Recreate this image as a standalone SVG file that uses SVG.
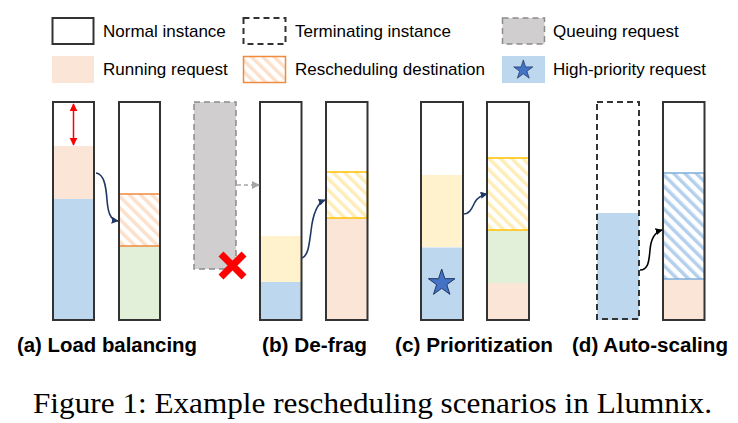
<svg xmlns="http://www.w3.org/2000/svg" width="738" height="423" viewBox="0 0 738 423">
<defs>
<pattern id="hOr" patternUnits="userSpaceOnUse" width="8" height="8" patternTransform="rotate(-45)"><rect width="8" height="8" fill="#fff"/><rect width="3.5" height="8" fill="#FBE0CC"/></pattern>
<pattern id="hYe" patternUnits="userSpaceOnUse" width="8" height="8" patternTransform="rotate(-45)"><rect width="8" height="8" fill="#fff"/><rect width="3.5" height="8" fill="#FFEDB8"/></pattern>
<pattern id="hBl" patternUnits="userSpaceOnUse" width="8" height="8" patternTransform="rotate(-45)"><rect width="8" height="8" fill="#fff"/><rect width="3.5" height="8" fill="#B4D0EC"/></pattern>
<marker id="mNavy" viewBox="0 0 10 10" refX="9" refY="5" markerWidth="7" markerHeight="7" orient="auto" markerUnits="userSpaceOnUse"><path d="M0,0 L10,5 L0,10 Z" fill="#1F3864"/></marker>
<marker id="mBlack" viewBox="0 0 10 10" refX="9" refY="5" markerWidth="7" markerHeight="7" orient="auto" markerUnits="userSpaceOnUse"><path d="M0,0 L10,5 L0,10 Z" fill="#000"/></marker>
<marker id="mGray" viewBox="0 0 10 10" refX="9" refY="5" markerWidth="8" markerHeight="8" orient="auto" markerUnits="userSpaceOnUse"><path d="M0,0 L10,5 L0,10 Z" fill="#A6A6A6"/></marker>
<marker id="mRed" viewBox="0 0 10 10" refX="9" refY="5" markerWidth="8" markerHeight="8" orient="auto-start-reverse" markerUnits="userSpaceOnUse"><path d="M0,0 L10,5 L0,10 Z" fill="#FF0000"/></marker>
<path id="star" d="M0,-14 L3.15,-4.33 L13.31,-4.33 L5.09,1.65 L8.23,11.33 L0,5.35 L-8.23,11.33 L-5.09,1.65 L-13.31,-4.33 L-3.15,-4.33 Z"/>
</defs>
<style>
.lg{font-family:"Liberation Sans",Arial,sans-serif;font-size:17px;fill:#000}
.lb{font-family:"Liberation Sans",Arial,sans-serif;font-size:20px;font-weight:bold;fill:#000}
.cap{font-family:"Liberation Serif","Times New Roman",serif;font-size:30px;fill:#000}
.inst{fill:none;stroke:#333;stroke-width:2}
.term{fill:none;stroke:#333;stroke-width:2;stroke-dasharray:6 4}
.queue{fill:#D0CECE;stroke:#8C8C8C;stroke-width:1.5;stroke-dasharray:6 4}
.pink{fill:#FBE5D6}
.blue{fill:#BDD7EE}
.green{fill:#E2F0D9}
.yellow{fill:#FFF2CC}
.hor{fill:url(#hOr);stroke:#F08A3C;stroke-width:1.5}
.hye{fill:url(#hYe);stroke:#FFC000;stroke-width:1.5}
.hbl{fill:url(#hBl);stroke:#7FAEDC;stroke-width:1.5}
.star{fill:#4472C4;stroke:#203864;stroke-width:1}
.arr{fill:none;stroke:#1F3864;stroke-width:1.6}
</style>
<rect width="738" height="423" fill="#fff"/>

<g id="legend">
<rect x="52.5" y="18" width="41" height="26" class="inst"/>
<text x="103" y="37" class="lg">Normal instance</text>
<rect x="243.5" y="18" width="42" height="26" class="term"/>
<text x="295" y="37" class="lg">Terminating instance</text>
<rect x="502.5" y="18" width="42" height="26" class="queue"/>
<text x="553" y="37" class="lg">Queuing request</text>
<rect x="52" y="56" width="42" height="27" class="pink"/>
<text x="103" y="75" class="lg">Running request</text>
<rect x="243.5" y="56.5" width="42" height="26" class="hor"/>
<text x="295" y="75" class="lg">Rescheduling destination</text>
<rect x="502" y="56" width="43" height="27" class="blue"/>
<use href="#star" class="star" transform="translate(523.3,70) scale(0.72)"/>
<text x="553" y="75" class="lg">High-priority request</text>
</g>

<g id="a-inst1">
<rect x="53" y="146" width="41" height="53" class="pink"/>
<rect x="53" y="199" width="41" height="121" class="blue"/>
<rect x="53" y="102" width="41" height="218" class="inst"/>
</g>
<g id="a-inst2">
<rect x="119" y="246" width="41" height="74" class="green"/>
<rect x="119" y="194" width="41" height="52" class="hor"/>
<rect x="119" y="102" width="41" height="218" class="inst"/>
</g>
<g id="a-queue">
<rect x="194" y="102" width="42" height="167" class="queue"/>
</g>
<g id="a-x">
<path d="M221,254 L244,277 M244,254 L221,277" stroke="#FF0000" stroke-width="7" stroke-linecap="butt"/>
</g>
<g id="b-inst1">
<rect x="260" y="236" width="41.5" height="46" class="yellow"/>
<rect x="260" y="282" width="41.5" height="38" class="blue"/>
<rect x="260" y="102" width="41.5" height="218" class="inst"/>
</g>
<g id="b-inst2">
<rect x="326" y="218" width="41.5" height="102" class="pink"/>
<rect x="326" y="172" width="41.5" height="46" class="hye"/>
<rect x="326" y="102" width="41.5" height="218" class="inst"/>
</g>
<g id="c-inst1">
<rect x="421" y="175" width="42" height="72" class="yellow"/>
<rect x="421" y="247.5" width="42" height="72.5" class="blue"/>
<use href="#star" class="star" transform="translate(441.7,283)"/>
<rect x="421" y="102" width="42" height="218" class="inst"/>
</g>
<g id="c-inst2">
<rect x="487" y="230" width="42" height="53" class="green"/>
<rect x="487" y="283" width="42" height="37" class="pink"/>
<rect x="487" y="158" width="42" height="72" class="hye"/>
<rect x="487" y="102" width="42" height="218" class="inst"/>
</g>
<g id="d-inst1">
<rect x="597" y="213" width="42" height="107" class="blue"/>
<rect x="597" y="102" width="42" height="217" class="term"/>
</g>
<g id="d-inst2">
<rect x="663" y="279" width="41.5" height="41" class="pink"/>
<rect x="663" y="173" width="41.5" height="106" class="hbl"/>
<rect x="663" y="102" width="41.5" height="218" class="inst"/>
</g>

<g id="connectors">
<line x1="73.5" y1="104" x2="73.5" y2="145" stroke="#FF0000" stroke-width="1.5" marker-start="url(#mRed)" marker-end="url(#mRed)"/>
<path d="M96,173 C104,174 106,186 107,200 C108,212 110,220 118,221" class="arr" marker-end="url(#mNavy)"/>
<line x1="237" y1="185" x2="259" y2="185" stroke="#A6A6A6" stroke-width="1.5" stroke-dasharray="4 3" marker-end="url(#mGray)"/>
<path d="M302,258 C308,256 309,246 311,231 C313,213 317,203 325,200" class="arr" marker-end="url(#mNavy)"/>
<path d="M463,214 C470,214 472,208 475,202 C478,197 482,195 487,194" class="arr" marker-end="url(#mNavy)"/>
<path d="M640,270 C648,270 649,262 650,250 C651,238 655,232 662,230" fill="none" stroke="#000" stroke-width="1.6" marker-end="url(#mBlack)"/>
</g>

<g id="labels">
<text x="17" y="352" class="lb" textLength="180" lengthAdjust="spacingAndGlyphs">(a) Load balancing</text>
<text x="262" y="352" class="lb" textLength="105" lengthAdjust="spacingAndGlyphs">(b) De-frag</text>
<text x="395" y="352" class="lb" textLength="158" lengthAdjust="spacingAndGlyphs">(c) Prioritization</text>
<text x="572" y="352" class="lb" textLength="156" lengthAdjust="spacingAndGlyphs">(d) Auto-scaling</text>
<text x="33" y="413" class="cap" textLength="679" lengthAdjust="spacingAndGlyphs">Figure 1: Example rescheduling scenarios in Llumnix.</text>
</g>
</svg>
